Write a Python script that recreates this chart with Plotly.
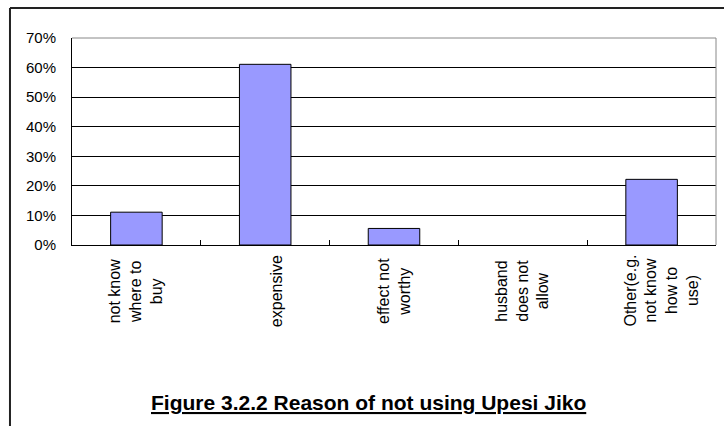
import plotly.graph_objects as go

# Survey result: share of respondents per reason
categories = [
    "not know<br>where to<br>buy",
    "expensive",
    "effect not<br>worthy",
    "husband<br>does not<br>allow",
    "Other(e.g.<br>not know<br>how to<br>use)",
]
shares = [0.111, 0.611, 0.056, 0.0, 0.222]
y_ticks = [0, 0.1, 0.2, 0.3, 0.4, 0.5, 0.6, 0.7]
y_tick_labels = ["0%", "10%", "20%", "30%", "40%", "50%", "60%", "70%"]
title_text = "Figure 3.2.2 Reason of not using Upesi Jiko"

# horizontal nudge of each rotated category label (px)
label_nudge = [0, 12, 0, 0, 10]

FONT = "Liberation Sans, Arial, sans-serif"

# empty bars get no outline
outline_widths = [1 if v > 0 else 0 for v in shares]

fig = go.Figure(
    go.Bar(
        x=categories,
        y=shares,
        marker=dict(color="#9999FF", line=dict(color="#000000", width=outline_widths)),
        hoverinfo="skip",
    )
)

# rotated category labels below the axis
for cat, nudge in zip(categories, label_nudge):
    fig.add_annotation(
        x=cat, xref="x", y=-0.222, yref="paper",
        text=cat, textangle=-90, showarrow=False,
        xanchor="center", yanchor="middle", align="center",
        xshift=nudge,
        font=dict(family=FONT, size=16, color="#000000"),
    )

# underlined figure caption
fig.add_annotation(
    x=0.4604, xref="paper", y=-0.763, yref="paper",
    text="<b><u>" + title_text + "</u></b>", showarrow=False,
    xanchor="center", yanchor="middle",
    font=dict(family=FONT, size=21, color="#000000"),
)

# grey frame on top and right of the plot area
fig.add_shape(type="line", xref="paper", yref="paper", x0=0, x1=1, y0=1, y1=1,
              line=dict(color="#888888", width=1), layer="above")
fig.add_shape(type="line", xref="paper", yref="paper", x0=1, x1=1, y0=0, y1=1,
              line=dict(color="#888888", width=1), layer="above")

# outer chart border (left and top edges)
fig.add_shape(type="line", xref="paper", yref="paper", x0=-0.0963, x1=-0.0963,
              y0=1.1449, y1=-0.9, line=dict(color="#222222", width=2))
fig.add_shape(type="line", xref="paper", yref="paper", x0=-0.0963, x1=1.02,
              y0=1.1449, y1=1.1449, line=dict(color="#222222", width=2))

fig.update_layout(
    width=724, height=426,
    margin=dict(l=72, r=8, t=38, b=181),
    paper_bgcolor="white", plot_bgcolor="white",
    bargap=0.6,
    showlegend=False,
    font=dict(family=FONT, color="#000000"),
    xaxis=dict(
        type="category",
        showticklabels=False,
        showline=True, linecolor="#000000", linewidth=1,
        ticks="inside", ticklen=5, tickcolor="#000000", tickwidth=1,
        tickson="boundaries",
        showgrid=False, zeroline=False,
        fixedrange=True,
    ),
    yaxis=dict(
        range=[0, 0.7],
        tickvals=y_ticks, ticktext=y_tick_labels,
        tickfont=dict(family=FONT, size=15, color="#000000"),
        showline=True, linecolor="#000000", linewidth=1,
        showgrid=True, gridcolor="#000000", gridwidth=1,
        ticks="", ticklabelstandoff=12,
        zeroline=False,
        fixedrange=True,
    ),
)

fig.write_html("out.html", config={"displayModeBar": False})
